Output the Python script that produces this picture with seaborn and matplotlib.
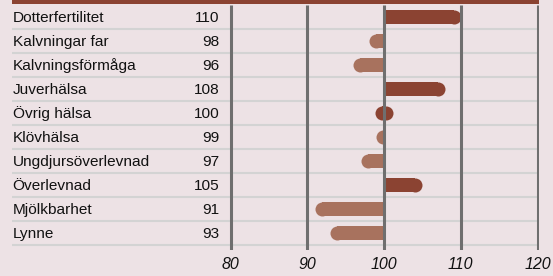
import matplotlib
matplotlib.use("Agg")
import matplotlib.pyplot as plt
from matplotlib.patches import Rectangle
import seaborn as sns
import pandas as pd

categories = ["Dotterfertilitet", "Kalvningar far", "Kalvningsförmåga", "Juverhälsa",
              "Övrig hälsa", "Klövhälsa", "Ungdjursöverlevnad", "Överlevnad",
              "Mjölkbarhet", "Lynne"]
values = [110, 98, 96, 108, 100, 99, 97, 105, 91, 93]
tick_values = [80, 90, 100, 110, 120]
base = 100

BG = "#ede2e5"
DARK = "#8b4332"
LIGHT = "#a8725e"
GRID_V = "#6f6f6f"
SEP = "#d3d3d3"

W, H, DPI = 553, 276, 100
sns.set_theme(style="white")
plt.rcParams["font.family"] = ["Liberation Sans", "DejaVu Sans"]

fig = plt.figure(figsize=(W / DPI, H / DPI), dpi=DPI, facecolor=BG)
# axes spans pixels x 12..539, y 0..250 (from top)
ax = fig.add_axes([12 / W, (H - 250) / H, 527 / W, 250 / H])
ax.set_facecolor(BG)

ppu = (537.5 - 230.7) / 40.0          # pixels per data unit
xmin = (80 - base) - (230.7 - 12) / ppu
xmax = (120 - base) + (539 - 537.5) / ppu
ytop = -0.5 - 5 / 24
ybot = 9.5 + 5 / 24

r = 7 / ppu  # cap radius in data units
bar_len, cap_x, group = [], [], []
for v in values:
    d = v - base
    if d > 0:
        bar_len.append(d - r); cap_x.append(d - r); group.append("up")
    elif d < 0:
        bar_len.append(d + r); cap_x.append(d + r); group.append("down")
    else:
        bar_len.append(0.0); cap_x.append(0.0); group.append("zero")

df = pd.DataFrame({"cat": categories, "len": bar_len, "grp": group})
pal = {"up": DARK, "down": LIGHT, "zero": DARK}

# separators
ax.hlines([i + 0.5 for i in range(len(categories))], xmin, xmax, color=SEP, lw=1.5, zorder=1)

sns.barplot(data=df, x="len", y="cat", hue="grp", palette=pal, dodge=False,
            legend=False, width=14 / 24, saturation=1, orient="h", ax=ax,
            linewidth=0, zorder=2)

msize = (14 * 72 / DPI) ** 2
clip_up = Rectangle((0, -20), 100, 40, transform=ax.transData)
clip_dn = Rectangle((-100, -20), 100, 40, transform=ax.transData)
for i, (cx, g) in enumerate(zip(cap_x, group)):
    if g == "zero":
        off = 2 / ppu
        ax.barh(i, 2 * off, left=-off, height=14 / 24, color=DARK, lw=0, zorder=2)
        ax.scatter([-off, off], [i, i], s=msize, color=DARK, lw=0, zorder=2)
    else:
        sc = ax.scatter([cx], [i], s=msize, color=pal[g], lw=0, zorder=2)
        sc.set_clip_path(clip_up if g == "up" else clip_dn)

# top band
ax.axhspan(ytop, ytop + 4.5 / 24, color=DARK, lw=0, zorder=3)
# vertical grid lines
ax.vlines([t - base for t in tick_values], ytop + 4.5 / 24, ybot, color=GRID_V, lw=2.2, zorder=4)

# labels
lab_x = xmin + 0.6 / ppu
num_x = (80 - base) - (230.7 - 219.5) / ppu
for i, (c, v) in enumerate(zip(categories, values)):
    ax.text(lab_x, i + 0.03, c, ha="left", va="center", fontsize=11.1, color="#111111", zorder=5)
    ax.text(num_x, i + 0.03, str(v), ha="right", va="center", fontsize=11.1, color="#111111", zorder=5)

ax.set_xlim(xmin, xmax)
ax.set_ylim(ybot, ytop)
ax.set_xticks([t - base for t in tick_values])
ax.set_xticklabels([str(t) for t in tick_values], fontstyle="italic", fontsize=11.5, color="#111111")
ax.set_yticks([])
ax.tick_params(axis="x", length=0, pad=5)
ax.set_xlabel("")
ax.set_ylabel("")
for s in ax.spines.values():
    s.set_visible(False)

fig.savefig("out.png", dpi=DPI, facecolor=BG)
